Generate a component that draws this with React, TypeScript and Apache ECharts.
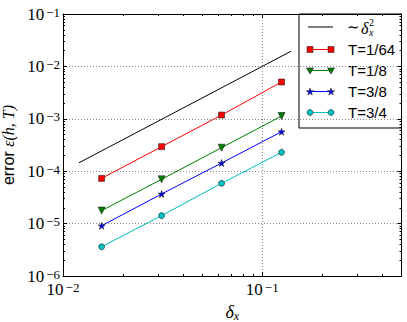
import React, { useEffect, useRef } from 'react';
import * as echarts from 'echarts';

// ---- data ----
const deltaX = [1 / 64, 1 / 32, 1 / 16, 1 / 8];
const errT1_64 = [7.3e-5, 2.94e-4, 1.18e-3, 5.04e-3];
const errT1_8 = [1.77e-5, 7.0e-5, 2.81e-4, 1.13e-3];
const errT3_8 = [9.1e-6, 3.67e-5, 1.43e-4, 5.67e-4];
const errT3_4 = [3.62e-6, 1.42e-5, 5.87e-5, 2.29e-4];
const refX = [0.012, 0.14];
const refY = [1.44e-4, 0.0196];
const seriesNames = ['T=1/64', 'T=1/8', 'T=3/8', 'T=3/4'];
const seriesColors = ['#ff0000', '#008000', '#0000ff', '#00bfbf'];
const xRange = [0.01, 0.5];
const yRange = [1e-6, 0.1];

const STAR = 'path://M0,-10L2.245,-3.09L9.51,-3.09L3.633,1.18L5.88,8.09L0,3.82L-5.88,8.09L-3.633,1.18L-9.51,-3.09L-2.245,-3.09Z';
const TRI = 'path://M-5,-4L5,-4L0,5Z';

const pair = (xs: number[], ys: number[]) => xs.map((x, i) => [x, ys[i]]);

const powFmt = (v: number) => {
  const e = Math.round(Math.log10(v));
  return `{b|10}{s|${e < 0 ? '\u2212' : ''}${Math.abs(e)}}`;
};

const richPow = {
  b: { fontFamily: 'Liberation Serif', fontSize: 17, color: '#000', verticalAlign: 'bottom' as const },
  s: { fontFamily: 'Liberation Serif', fontSize: 13, color: '#000', verticalAlign: 'top' as const, padding: [0, 0, 0, 2] },
};

function starPoints(cx: number, cy: number, r: number) {
  const pts: number[][] = [];
  for (let k = 0; k < 10; k++) {
    const a = (-90 + k * 36) * Math.PI / 180;
    const rr = k % 2 === 0 ? r : r * 0.382;
    pts.push([cx + rr * Math.cos(a), cy + rr * Math.sin(a)]);
  }
  return pts;
}

function marker(kind: number, cx: number, cy: number, color: string): any {
  const style = { fill: color, stroke: '#222', lineWidth: 0.6 };
  if (kind === 0) return { type: 'rect', shape: { x: cx - 3, y: cy - 3, width: 6, height: 6 }, style };
  if (kind === 1) return { type: 'polygon', shape: { points: [[cx - 3.5, cy - 2.5], [cx + 3.5, cy - 2.5], [cx, cy + 3.5]] }, style };
  if (kind === 2) return { type: 'polygon', shape: { points: starPoints(cx, cy + 0.4, 3.8) }, style };
  return { type: 'circle', shape: { cx, cy, r: 3 }, style };
}

export default function App() {
  const ref = useRef<HTMLDivElement>(null);
  useEffect(() => {
    if (!ref.current) return;
    const chart = echarts.init(ref.current, null, { renderer: 'svg' });

    const axisCommon = {
      type: 'log' as const,
      logBase: 10,
      axisLine: { show: true, onZero: false, lineStyle: { color: '#000', width: 1 } },
      axisTick: { show: true, inside: true, length: 4, lineStyle: { color: '#000' } },
      minorTick: { show: true, splitNumber: 9, length: 2, lineStyle: { color: '#000' } },
    };

    const symbols = ['rect', TRI, STAR, 'circle'];
    const sizes = [6, 7, 7, 6];
    const dataSets = [errT1_64, errT1_8, errT3_8, errT3_4];

    const legendX0 = 299, legendY0 = 14, legendW = 102.5, legendH = 114;
    const rowY = [27, 49.5, 70.5, 91.5, 112.5];
    const legendEls: any[] = [
      { type: 'rect', shape: { x: legendX0, y: legendY0, width: legendW, height: legendH }, style: { fill: '#fff', stroke: '#000', lineWidth: 1 } },
      { type: 'line', shape: { x1: 308, y1: rowY[0], x2: 333, y2: rowY[0] }, style: { stroke: '#000', lineWidth: 1 } },
      { type: 'text', x: 347, y: rowY[0], style: { text: '\u223c', font: '15px "Liberation Serif"', fill: '#000', verticalAlign: 'middle' } },
      { type: 'text', x: 361, y: rowY[0] + 1, style: { text: '\u03b4', font: 'italic 16px "Liberation Serif"', fill: '#000', verticalAlign: 'middle' } },
      { type: 'text', x: 369, y: rowY[0] - 5, style: { text: '2', font: '10px "Liberation Serif"', fill: '#000', verticalAlign: 'middle' } },
      { type: 'text', x: 369, y: rowY[0] + 5, style: { text: 'x', font: 'italic 10px "Liberation Serif"', fill: '#000', verticalAlign: 'middle' } },
    ];
    seriesNames.forEach((n, i) => {
      const y = rowY[i + 1];
      legendEls.push({ type: 'line', shape: { x1: 310, y1: y, x2: 331, y2: y }, style: { stroke: seriesColors[i], lineWidth: 1 } });
      legendEls.push(marker(i, 310, y, seriesColors[i]));
      legendEls.push(marker(i, 331, y, seriesColors[i]));
      legendEls.push({ type: 'text', x: 348, y, style: { text: n, font: '15px "Liberation Sans"', fill: '#000', verticalAlign: 'middle' } });
    });

    chart.setOption({
      animation: false,
      backgroundColor: '#fff',
      grid: { left: 63, right: 5.5, top: 14, bottom: 46, containLabel: false, outerBoundsMode: 'none' },
      xAxis: [
        {
          ...axisCommon,
          position: 'bottom',
          min: xRange[0],
          max: xRange[1],
          name: '{d|\u03b4}{x|x}',
          nameLocation: 'middle',
          nameGap: 14,
          nameTextStyle: {
            rich: {
              d: { fontFamily: 'Liberation Serif', fontStyle: 'italic', fontSize: 18, color: '#000' },
              x: { fontFamily: 'Liberation Serif', fontStyle: 'italic', fontSize: 12, color: '#000', verticalAlign: 'bottom', padding: [8, 0, 0, 0] },
            },
          },
          axisLabel: { show: true, margin: 5, formatter: powFmt, rich: richPow, showMaxLabel: false },
          splitLine: { show: true, lineStyle: { color: '#888', type: [1, 2], width: 1 } },
        },
        {
          ...axisCommon,
          position: 'top',
          min: xRange[0],
          max: xRange[1],
          axisLabel: { show: false },
          splitLine: { show: false },
        },
      ],
      yAxis: [
        {
          ...axisCommon,
          position: 'left',
          min: yRange[0],
          max: yRange[1],
          name: '{a|error }{b|\u03b5(h, T)}',
          nameLocation: 'middle',
          nameGap: 37,
          nameTextStyle: {
            rich: {
              a: { fontFamily: 'Liberation Sans', fontSize: 16, color: '#000' },
              b: { fontFamily: 'Liberation Serif', fontStyle: 'italic', fontSize: 16, color: '#000' },
            },
          },
          axisLabel: { show: true, margin: 3, formatter: powFmt, rich: richPow },
          splitLine: { show: true, lineStyle: { color: '#888', type: [1, 2], width: 1 } },
        },
        {
          ...axisCommon,
          position: 'right',
          min: yRange[0],
          max: yRange[1],
          axisLabel: { show: false },
          splitLine: { show: false },
        },
      ],
      series: [
        {
          name: 'ref',
          type: 'line',
          data: pair(refX, refY),
          showSymbol: false,
          symbol: 'none',
          lineStyle: { color: '#000', width: 1 },
          z: 3,
        },
        ...dataSets.map((ys, i) => ({
          name: seriesNames[i],
          type: 'line',
          data: pair(deltaX, ys),
          symbol: symbols[i],
          symbolSize: sizes[i],
          showSymbol: true,
          lineStyle: { color: seriesColors[i], width: 1 },
          itemStyle: { color: seriesColors[i], borderColor: '#222', borderWidth: 0.6 },
          z: 3,
        })),
      ],
      graphic: [{ type: 'group', z: 100, children: legendEls }],
    });
    return () => chart.dispose();
  }, []);
  return <div ref={ref} style={{ position: 'fixed', left: 0, top: 0, width: 407, height: 322 }} />;
}
